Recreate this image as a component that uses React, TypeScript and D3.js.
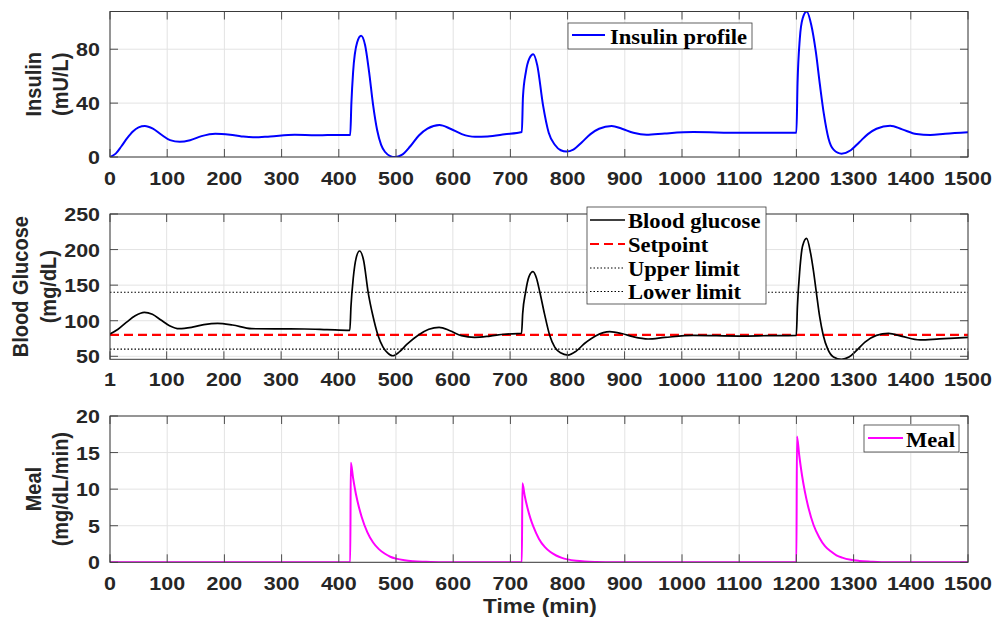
import React from "react";
import * as d3 from "d3";

// ---------- DATA ----------
const xTicksA = [0, 100, 200, 300, 400, 500, 600, 700, 800, 900, 1000, 1100, 1200, 1300, 1400, 1500];
const xTicksB = [1, 100, 200, 300, 400, 500, 600, 700, 800, 900, 1000, 1100, 1200, 1300, 1400, 1500];
const insulinTicks = [0, 40, 80];
const glucoseTicks = [50, 100, 150, 200, 250];
const mealTicks = [0, 5, 10, 15, 20];

const insulinT = [0, 10, 20, 30, 40, 50, 61, 75, 90, 105, 122, 140, 160, 184, 210, 230, 250, 280, 323, 360, 400, 420,
  422, 425, 432, 439, 446, 453, 460, 467, 474, 481, 490, 498, 510, 525, 540, 555, 576, 595, 615, 638, 660, 690, 720,
  722, 727, 733, 740, 747, 757, 767, 778, 788, 798, 810, 825, 840, 855, 877, 895, 915, 938, 970, 1020, 1101, 1200,
  1202, 1206, 1211, 1218, 1226, 1234, 1241, 1248, 1256, 1265, 1279, 1295, 1310, 1325, 1340, 1364, 1385, 1410, 1434, 1460, 1500];
const insulinV = [0, 2.5, 8, 14, 19, 22, 23, 21, 16.5, 12.5, 11.3, 12.5, 15.5, 17.3, 16.5, 15.3, 14.6, 15.3, 16.5, 16.2, 16.3, 16.3,
  40, 63, 85, 90, 83, 63, 38.5, 20, 9, 3.7, 0.7, 0, 1.5, 8, 16, 21, 23.7, 21, 17, 15, 15.3, 16.8, 18.5,
  45, 63, 73, 76.3, 68, 38.5, 18, 8.9, 5, 4, 5.5, 11, 17, 21, 23, 21, 18, 16.5, 17.5, 18.5, 18, 18,
  55, 88, 103, 108, 98, 78, 54, 32, 14, 5.5, 2.5, 5, 11, 17, 21, 23.2, 20.5, 17, 16.3, 17.2, 18.3];

const glucoseT = [1, 15, 30, 45, 61, 75, 90, 105, 122, 145, 165, 189, 215, 248, 290, 341, 380, 420,
  422, 426, 431, 437, 444, 452, 460, 469, 478, 486, 495, 507, 520, 540, 558, 576, 595, 615, 638, 665, 690, 720,
  722, 727, 733, 740, 746, 752, 760, 769, 778, 788, 801, 815, 830, 850, 874, 895, 915, 941, 970, 1020, 1101, 1150, 1200,
  1202, 1206, 1211, 1218, 1225, 1230, 1235, 1241, 1247, 1255, 1265, 1279, 1292, 1305, 1320, 1340, 1361, 1385, 1416, 1450, 1500];
const glucoseV = [81.3, 88, 98, 107, 111.8, 109, 101, 93, 88.8, 91, 94.5, 96.4, 94, 88.8, 88.5, 88.4, 87.5, 86.5,
  120, 160, 188, 198, 185, 140, 108, 80, 63, 55, 50.8, 56.5, 67, 80, 88, 90.8, 86, 79, 76.7, 78.5, 81, 82.3,
  110, 140, 162, 169, 160, 140, 110, 80, 63, 55, 51.8, 57, 68, 79, 84.6, 82, 77.5, 74.3, 76.5, 79.5, 78.5, 79, 79.5,
  120, 170, 205, 215.8, 195, 170, 140, 105, 80, 60, 49, 45.8, 49, 58, 70, 79.5, 82.3, 78, 73, 74.5, 76.7];

const setpoint = 80;
const upperLimit = 140;
const lowerLimit = 60;

const mealT = [0, 420, 421, 425, 430, 435, 440, 450, 460, 470, 480, 490, 500, 515, 530, 550, 580,
  720, 721, 725, 730, 735, 740, 750, 760, 770, 780, 790, 800, 815, 830, 850, 880,
  1200, 1201, 1205, 1210, 1215, 1220, 1230, 1240, 1250, 1260, 1270, 1280, 1295, 1310, 1330, 1360, 1500];
const mealV = [0, 0, 13.6, 11.5, 9.3, 7.6, 6.2, 4.1, 2.7, 1.8, 1.2, 0.76, 0.5, 0.27, 0.15, 0.07, 0,
  0, 10.8, 9.1, 7.4, 6.0, 4.9, 3.2, 2.1, 1.4, 0.93, 0.6, 0.4, 0.22, 0.12, 0.05, 0,
  0, 17.2, 14.6, 11.8, 9.6, 7.8, 5.1, 3.4, 2.2, 1.5, 0.96, 0.64, 0.34, 0.19, 0.09, 0, 0];

// ---------- LAYOUT ----------
const W = 996, H = 624;
const L = 110, R = 968;
const SX = 1.13; // horizontal stretch of glyphs
const sans = "'Liberation Sans', Arial, sans-serif";
const serif = "'Liberation Serif', 'Times New Roman', serif";

type Txt = { x: number; y: number; s: string; size?: number; anchor?: string; family?: string; rot?: boolean; weight?: string };
const T = ({ x, y, s, size = 19, anchor = "start", family = sans, rot = false, weight = "bold" }: Txt) => (
  <text
    transform={`translate(${x},${y}) scale(${SX},1)${rot ? " rotate(-90)" : ""}`}
    fontFamily={family}
    fontSize={size}
    fontWeight={weight}
    textAnchor={anchor}
    fill={family === serif ? "#000" : "#262626"}
  >
    {s}
  </text>
);

type PanelProps = {
  top: number; bottom: number; xDomain: [number, number]; yDomain: [number, number];
  xTicks: number[]; yTicks: number[]; id: string; children: (x: d3.ScaleLinear<number, number>, y: d3.ScaleLinear<number, number>) => React.ReactNode;
  label1: string; label2: string; xLabelY: number; lab1X: number; lab2X: number;
};

const Panel = ({ top, bottom, xDomain, yDomain, xTicks, yTicks, id, children, label1, label2, xLabelY, lab1X, lab2X }: PanelProps) => {
  const x = d3.scaleLinear().domain(xDomain).range([L, R]);
  const y = d3.scaleLinear().domain(yDomain).range([bottom, top]);
  const tl = 8;
  const mid = (top + bottom) / 2;
  return (
    <g>
      <defs>
        <clipPath id={id}>
          <rect x={L} y={top} width={R - L} height={bottom - top} />
        </clipPath>
      </defs>
      <rect x={L} y={top} width={R - L} height={bottom - top} fill="#fff" />
      {xTicks.map((t) => (
        <line key={"gx" + t} x1={x(t)} x2={x(t)} y1={top} y2={bottom} stroke="#e3e3e3" strokeWidth={1} />
      ))}
      {yTicks.map((t) => (
        <line key={"gy" + t} x1={L} x2={R} y1={y(t)} y2={y(t)} stroke="#e3e3e3" strokeWidth={1} />
      ))}
      <g clipPath={`url(#${id})`}>{children(x, y)}</g>
      {xTicks.map((t) => (
        <g key={"tx" + t}>
          <line x1={x(t)} x2={x(t)} y1={bottom} y2={bottom - tl} stroke="#4d4d4d" />
          <line x1={x(t)} x2={x(t)} y1={top} y2={top + tl} stroke="#4d4d4d" />
        </g>
      ))}
      {yTicks.map((t) => (
        <g key={"ty" + t}>
          <line x1={L} x2={L + tl} y1={y(t)} y2={y(t)} stroke="#4d4d4d" />
          <line x1={R} x2={R - tl} y1={y(t)} y2={y(t)} stroke="#4d4d4d" />
        </g>
      ))}
      <rect x={L} y={top} width={R - L} height={bottom - top} fill="none" stroke="#3a3a3a" strokeWidth={1} />
      {xTicks.map((t) => (
        <T key={"lx" + t} x={x(t)} y={xLabelY} s={String(t)} anchor="middle" />
      ))}
      {yTicks.map((t) => (
        <T key={"ly" + t} x={100} y={y(t) + 7} s={String(t)} anchor="end" />
      ))}
      <T x={lab1X} y={mid} s={label1} size={20} anchor="middle" rot />
      <T x={lab2X} y={mid} s={label2} size={20} anchor="middle" rot />
    </g>
  );
};

const pts = (ts: number[], vs: number[]) => ts.map((t, i) => [t, vs[i]] as [number, number]);

export default function App() {
  const mk = (x: d3.ScaleLinear<number, number>, y: d3.ScaleLinear<number, number>) =>
    d3.line<[number, number]>().x((d) => x(d[0])).y((d) => y(d[1])).curve(d3.curveMonotoneX);

  return (
    <svg width={W} height={H} style={{ position: "absolute", left: 0, top: 0, background: "#fff" }}>
      <rect width={W} height={H} fill="#fff" />
      {/* Panel 1: Insulin */}
      <Panel top={11.5} bottom={157} xDomain={[0, 1500]} yDomain={[0, 108]} xTicks={xTicksA} yTicks={insulinTicks}
        id="c1" label1="Insulin" label2="(mU/L)" xLabelY={185} lab1X={41} lab2X={67.5}>
        {(x, y) => <path d={mk(x, y)(pts(insulinT, insulinV)) || ""} fill="none" stroke="#0000ff" strokeWidth={2} />}
      </Panel>
      {/* Panel 2: Glucose */}
      <Panel top={214} bottom={359.3} xDomain={[1, 1500]} yDomain={[45.8, 250]} xTicks={xTicksB} yTicks={glucoseTicks}
        id="c2" label1="Blood Glucose" label2="(mg/dL)" xLabelY={385.5} lab1X={27.5} lab2X={56}>
        {(x, y) => (
          <g>
            <line x1={x(1)} x2={x(1500)} y1={y(upperLimit)} y2={y(upperLimit)} stroke="#000" strokeWidth={1.2} strokeDasharray="1.5,2" />
            <line x1={x(1)} x2={x(1500)} y1={y(lowerLimit)} y2={y(lowerLimit)} stroke="#000" strokeWidth={1.2} strokeDasharray="1.5,2" />
            <line x1={x(1)} x2={x(1500)} y1={y(setpoint)} y2={y(setpoint)} stroke="#ff0000" strokeWidth={2.2} strokeDasharray="9,5" />
            <path d={mk(x, y)(pts(glucoseT, glucoseV)) || ""} fill="none" stroke="#000" strokeWidth={1.7} />
          </g>
        )}
      </Panel>
      {/* Panel 3: Meal */}
      <Panel top={416} bottom={562.3} xDomain={[0, 1500]} yDomain={[0, 20]} xTicks={xTicksA} yTicks={mealTicks}
        id="c3" label1="Meal" label2="(mg/dL/min)" xLabelY={590} lab1X={41} lab2X={67.5}>
        {(x, y) => <path d={mk(x, y)(pts(mealT, mealV)) || ""} fill="none" stroke="#ff00ff" strokeWidth={2} />}
      </Panel>
      <T x={540} y={613} s="Time (min)" size={20} anchor="middle" />

      {/* Legend 1 */}
      <rect x={568} y={23} width={184} height={26} fill="#fff" stroke="#3a3a3a" strokeWidth={0.8} />
      <line x1={572} x2={605} y1={35} y2={35} stroke="#0000ff" strokeWidth={2} />
      <T x={610} y={44} s="Insulin profile" size={20} family={serif} />

      {/* Legend 2 */}
      <rect x={587} y={207} width={179} height={97} fill="#fff" stroke="#3a3a3a" strokeWidth={0.8} />
      <line x1={590} x2={625} y1={220} y2={220} stroke="#000" strokeWidth={1.7} />
      <T x={628} y={228} s="Blood glucose" size={20} family={serif} />
      <line x1={590} x2={625} y1={244} y2={244} stroke="#ff0000" strokeWidth={2.2} strokeDasharray="9,5" />
      <T x={628} y={252} s="Setpoint" size={20} family={serif} />
      <line x1={590} x2={625} y1={268} y2={268} stroke="#000" strokeWidth={1.2} strokeDasharray="1.5,2" />
      <T x={628} y={275.5} s="Upper limit" size={20} family={serif} />
      <line x1={590} x2={625} y1={291.5} y2={291.5} stroke="#000" strokeWidth={1.2} strokeDasharray="1.5,2" />
      <T x={628} y={299} s="Lower limit" size={20} family={serif} />

      {/* Legend 3 */}
      <rect x={864} y={425} width={95} height={27} fill="#fff" stroke="#3a3a3a" strokeWidth={0.8} />
      <line x1={868} x2={903} y1={438} y2={438} stroke="#ff00ff" strokeWidth={2} />
      <T x={906} y={446.5} s="Meal" size={20} family={serif} />
    </svg>
  );
}
